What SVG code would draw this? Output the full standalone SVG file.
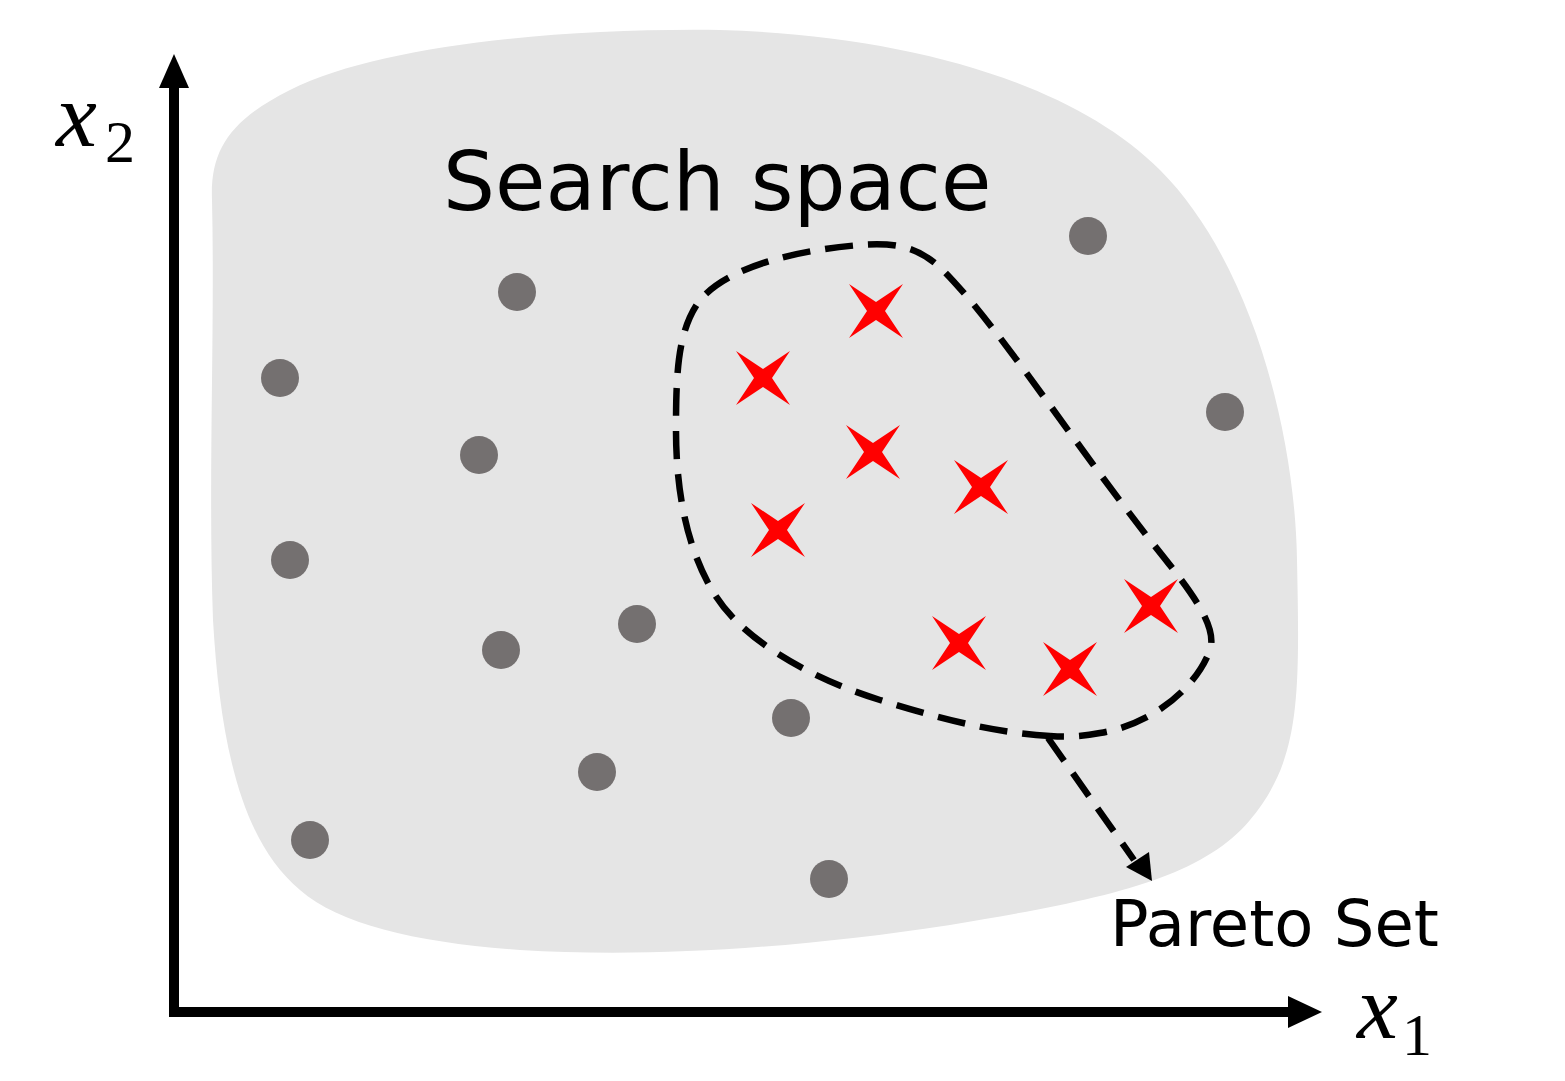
<svg xmlns="http://www.w3.org/2000/svg" width="1565" height="1081" viewBox="0 0 1565 1081">
<style>
.dot{fill:#747070}
.star{fill:#ff0000}
.lbl{font-family:"DejaVu Sans",sans-serif;fill:#000}
.math{font-family:"Liberation Serif",serif;font-style:italic;fill:#000}
.sub{font-family:"Liberation Serif",serif;fill:#000}
.dash{fill:none;stroke:#000;stroke-width:6.5;stroke-dasharray:28,15}
.axis{fill:none;stroke:#000;stroke-width:10}
</style>
<defs>
<path id="st" d="M-27,-27 L0,-9 L27,-27 L9,0 L27,27 L0,9 L-27,27 L-9,0 Z"/>
</defs>
<rect width="1565" height="1081" fill="#fff"/>
<g id="search-space">
<path fill="#e5e5e5" d="M212,200 C210,150 230,120 290,90 C380,45 560,28 720,30 C900,35 1070,80 1160,170 C1250,260 1295,430 1297,560 C1300,700 1300,760 1250,820 C1200,880 1100,900 950,925 C800,948 650,958 520,950 C420,943 340,925 300,890 C240,840 220,740 213,620 C208,480 215,330 212,200 Z"/>
<text class="lbl" x="443" y="210" font-size="82">Search space</text>
</g>
<g id="axes">
<path class="axis" d="M174,1012 L174,80"/>
<path d="M159,88 L174,54 L189,88 Z" fill="#000"/>
<path class="axis" d="M169,1012 L1295,1012"/>
<path d="M1288,996 L1322,1012 L1288,1028 Z" fill="#000"/>
<text class="math" x="56" y="146" font-size="92">x</text>
<text class="sub" x="105" y="162" font-size="60">2</text>
<text class="math" x="1357" y="1038" font-size="92">x</text>
<text class="sub" x="1402" y="1055" font-size="60">1</text>
</g>
<g id="dots">
<circle class="dot" cx="517" cy="292" r="19"/>
<circle class="dot" cx="280" cy="378" r="19"/>
<circle class="dot" cx="479" cy="455" r="19"/>
<circle class="dot" cx="290" cy="560" r="19"/>
<circle class="dot" cx="501" cy="650" r="19"/>
<circle class="dot" cx="637" cy="624" r="19"/>
<circle class="dot" cx="791" cy="718" r="19"/>
<circle class="dot" cx="597" cy="772" r="19"/>
<circle class="dot" cx="310" cy="840" r="19"/>
<circle class="dot" cx="829" cy="879" r="19"/>
<circle class="dot" cx="1088" cy="236" r="19"/>
<circle class="dot" cx="1225" cy="412" r="19"/>
</g>
<g id="pareto-points">
<use href="#st" class="star" x="876" y="311"/>
<use href="#st" class="star" x="763" y="378"/>
<use href="#st" class="star" x="873" y="452"/>
<use href="#st" class="star" x="981" y="487"/>
<use href="#st" class="star" x="778" y="530"/>
<use href="#st" class="star" x="959" y="643"/>
<use href="#st" class="star" x="1070" y="669"/>
<use href="#st" class="star" x="1151" y="606"/>
</g>
<g id="connectors">
<path class="dash" d="M1050,736 C1000,733 950,722 880,700 C800,675 740,635 715,595 C690,555 676,500 676,430 C676,370 678,330 700,300 C730,265 800,250 860,245 C920,240 935,260 970,300 C1020,360 1080,450 1150,540 C1190,590 1218,625 1210,650 C1195,690 1150,725 1100,733 C1080,737 1065,737 1050,736"/>
<path class="dash" d="M1048,738 L1134,860"/>
<path d="M1126,867 L1152,881 L1149,852 Z" fill="#000"/>
</g>
<g id="pareto-label">
<text class="lbl" x="1110" y="946" font-size="64">Pareto Set</text>
</g>
</svg>
